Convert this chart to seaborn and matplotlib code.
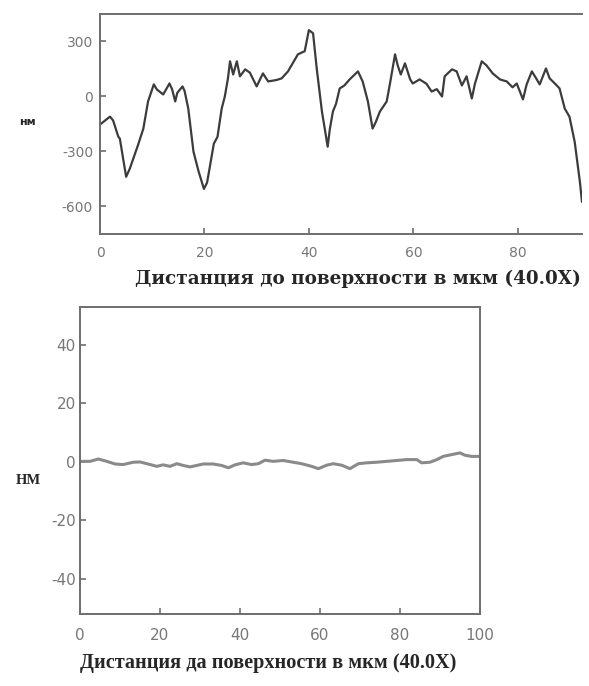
import pandas as pd
import matplotlib.pyplot as plt
import seaborn as sns

# top profile (before polishing), distance in um, height in nm
top_x = [0, 1.9, 2.5, 3.5, 3.8, 5.0, 5.7, 7.3, 8.3, 9.2, 10.3, 10.9, 12.1, 13.3, 13.8,
         14.4, 14.8, 15.8, 16.2, 16.9, 17.9, 18.9, 19.9, 20.5, 21.2, 21.8, 22.5, 23.3,
         23.9, 24.5, 24.9, 25.5, 26.2, 26.8, 27.8, 28.7, 30.0, 31.2, 32.2, 33.8, 34.8,
         36.0, 37.9, 39.2, 40.0, 40.8, 41.5, 42.5, 43.6, 44.0, 44.6, 45.2, 45.9, 46.8,
         47.8, 49.4, 50.3, 51.3, 52.2, 52.8, 53.6, 54.9, 55.5, 56.5, 57.0, 57.6, 58.4,
         59.4, 59.9, 61.2, 62.5, 63.5, 64.5, 65.5, 66.0, 67.4, 68.3, 69.3, 70.2, 71.2,
         71.8, 73.1, 74.0, 75.2, 76.6, 77.9, 79.0, 79.8, 81.0, 81.7, 82.7, 83.5, 84.2,
         85.4, 86.1, 87.1, 88.0, 89.0, 89.9, 90.9, 91.9, 92.3]
top_y = [-153, -110, -130, -219, -230, -438, -394, -263, -175, -27, 66, 38, 11, 71, 40,
         -27, 20, 55, 30, -66, -301, -411, -504, -470, -356, -257, -220, -66,
         0, 99, 192, 120, 192, 110, 148, 130, 55, 126, 82, 90, 99,
         137, 230, 247, 362, 345, 153, -82, -274, -180, -82, -40, 44, 60,
         93, 137, 82, -27, -175, -140, -82, -27, 66, 230, 170, 120, 181,
         93, 71, 93, 70, 27, 40, 0, 110, 148, 137, 60, 110, -11,
         70, 192, 170, 126, 93, 82, 50, 71, -16, 66, 137, 100, 66,
         153, 99, 71, 44, -66, -110, -247, -466, -575]

# bottom profile (after polishing)
bot_x = [0, 2.5, 4.6, 6.7, 8.75, 10.8, 13.3, 15, 17, 19.2, 20.8, 22.5, 24.2, 25.8, 27.5,
         29.2, 30.8, 33.3, 35.4, 37.1, 38.75, 40.8, 42.9, 44.6, 46.25, 48.3, 50.8, 53.3,
         55.4, 57.9, 59.6, 61.7, 63.3, 65.4, 67.5, 69.6, 71.7, 74.2, 76.7, 79.2, 81.7,
         84.2, 85.4, 87.5, 89.2, 90.8, 92.9, 95, 96.25, 97.9, 99.8]
bot_y = [0.2, 0.2, 1.0, 0.2, -0.7, -0.9, -0.1, 0, -0.7, -1.5, -1.0, -1.5, -0.6, -1.2, -1.7,
         -1.2, -0.7, -0.7, -1.2, -2.0, -1.0, -0.3, -0.9, -0.6, 0.6, 0.2, 0.5, -0.1,
         -0.6, -1.5, -2.3, -1.1, -0.6, -1.1, -2.3, -0.6, -0.3, -0.1, 0.2, 0.5, 0.8,
         0.8, -0.3, -0.1, 0.8, 1.9, 2.5, 3.1, 2.3, 1.9, 1.9]

top_ticks_y = [300, 0, -300, -600]
bot_ticks_y = [40, 20, 0, -20, -40]

top_label = "Дистанция до поверхности в мкм (40.0X)"
bot_label = "Дистанция да поверхности в мкм (40.0X)"

sns.set_style("ticks")
plt.rcParams["axes.unicode_minus"] = False

df_top = pd.DataFrame({"x": top_x, "y": top_y})
df_bot = pd.DataFrame({"x": bot_x, "y": bot_y})

fig = plt.figure(figsize=(5.89, 6.86), dpi=100)
ax1 = fig.add_axes([0.1698, 0.6589, 0.8183, 0.3207])
ax2 = fig.add_axes([0.1358, 0.1050, 0.6791, 0.4475])

sns.lineplot(data=df_top, x="x", y="y", ax=ax1, color="#3c3c3c", linewidth=1.6, sort=False)
sns.lineplot(data=df_bot, x="x", y="y", ax=ax2, color="#8a8a8a", linewidth=2.2, sort=False)

ax1.set_xlim(0, 92.3)
ax1.set_ylim(-750, 450)
ax1.set_yticks(top_ticks_y)
ax1.set_xticks([0, 20, 40, 60, 80])
ax1.spines["right"].set_visible(False)

ax2.set_xlim(0, 100)
ax2.set_ylim(-52, 53)
ax2.set_yticks(bot_ticks_y)
ax2.set_xticks([0, 20, 40, 60, 80, 100])

for ax in (ax1, ax2):
    for s in ax.spines.values():
        s.set_color("#6e6e6e")
        s.set_linewidth(1.4)
    ax.tick_params(direction="in", length=4, width=1.2, color="#6e6e6e",
                   labelcolor="#777777")

ax1.tick_params(axis="y", labelsize=10, pad=5)
ax1.tick_params(axis="x", labelsize=10, pad=9)
ax2.tick_params(axis="both", labelsize=11)
ax2.tick_params(axis="y", pad=3)
ax2.tick_params(axis="x", pad=10)

ax1.set_ylabel("нм", rotation=0, fontsize=8, fontweight="bold", family="DejaVu Sans",
               va="center", ha="center")
ax1.yaxis.set_label_coords(-0.151, 0.509)
ax1.set_xlabel(top_label, fontsize=13.2, fontweight="bold", family="DejaVu Serif",
               ha="left", va="center")
ax1.xaxis.set_label_coords(0.073, -0.205)

ax2.set_ylabel("НМ", rotation=0, fontsize=10.5, fontweight="bold", family="Liberation Serif",
               va="center", ha="center")
ax2.yaxis.set_label_coords(-0.128, 0.436)
ax2.set_xlabel(bot_label, fontsize=14.6, fontweight="bold", family="Liberation Serif",
               ha="center", va="center")
ax2.xaxis.set_label_coords(0.47, -0.16)

fig.savefig("out.png", dpi=100)
